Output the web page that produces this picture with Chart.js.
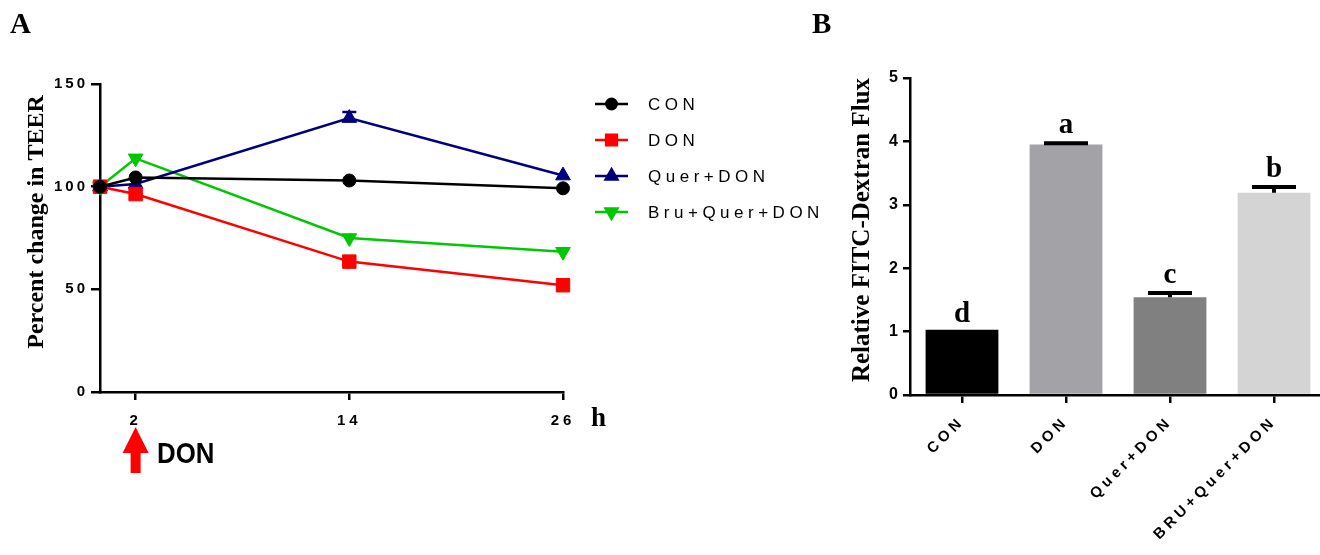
<!DOCTYPE html>
<html>
<head>
<meta charset="utf-8">
<script src="https://cdn.jsdelivr.net/npm/chart.js@4.4.0/dist/chart.umd.min.js"></script>
<style>
    html, body { margin: 0; padding: 0; background: #fff; overflow: hidden; width: 1320px; height: 555px; }
    #teerChart { position: absolute; left: 0; top: 0; }
    #fluxChart { position: absolute; left: 800px; top: 0; }
</style>
</head>
<body>
<canvas id="teerChart" width="830" height="555"></canvas>
<canvas id="fluxChart" width="550" height="555"></canvas>
<script>
// Panel A - TEER over time
const hours = [0, 2, 14, 26];
const hourTicks = [2, 14, 26];
const teerTicks = [0, 50, 100, 150];
const conTeer = [100, 104.5, 103, 99.2];
const donTeer = [100, 96.4, 63.5, 52];
const querDonTeer = [100, 101.3, 133.4, 105.4];
const querDonErr = [0, 0, 3, 0];
const bruQuerDonTeer = [100, 113.8, 75, 68.3];

// Panel B - FITC-dextran flux
const fluxGroups = ['CON', 'DON', 'Quer+DON', 'BRU+Quer+DON'];
const fluxValues = [1.03, 3.95, 1.54, 3.19];
const fluxErr = [0, 0.02, 0.07, 0.09];
const fluxLetters = ['d', 'a', 'c', 'b'];
const fluxTicks = [0, 1, 2, 3, 4, 5];

const SANS = '"Liberation Sans", Arial, sans-serif';
const SERIF = '"Liberation Serif", "Times New Roman", serif';

// canvas letterSpacing for tick labels, per axis
function spacedTicks(spacing) {
    return {
        id: 'spacedTicks',
        beforeDraw(chart) {
            Object.values(chart.scales).forEach(scale => {
                if (scale.drawLabels.spaced) return;
                const orig = scale.drawLabels;
                const wrapped = function(area) {
                    this.ctx.save();
                    this.ctx.letterSpacing = spacing[this.id] || '0px';
                    orig.call(this, area);
                    this.ctx.restore();
                };
                wrapped.spaced = true;
                scale.drawLabels = wrapped;
            });
        }
    };
}

function vTitle(ctx, text, x, y, font) {
    ctx.save();
    ctx.translate(x, y);
    ctx.rotate(-Math.PI / 2);
    ctx.font = font;
    ctx.fillStyle = '#000';
    ctx.textAlign = 'center';
    ctx.textBaseline = 'middle';
    ctx.fillText(text, 0, 0);
    ctx.restore();
}

function toPoints(values) {
    return hours.map((h, i) => ({ x: h, y: values[i] }));
}

// Panel A extras: error bars, legend, titles, arrow
const teerExtras = {
    id: 'teerExtras',
    afterDatasetsDraw(chart) {
        const ctx = chart.ctx;
        const xs = chart.scales.x, ys = chart.scales.y;
        chart.data.datasets.forEach(ds => {
            if (!ds.errors) return;
            ds.errors.forEach((e, i) => {
                if (!e) return;
                const px = xs.getPixelForValue(ds.data[i].x);
                const y0 = ys.getPixelForValue(ds.data[i].y);
                const y1 = ys.getPixelForValue(ds.data[i].y + e);
                ctx.save();
                ctx.strokeStyle = ds.borderColor;
                ctx.lineWidth = 2.5;
                ctx.beginPath();
                ctx.moveTo(px, y0); ctx.lineTo(px, y1);
                ctx.moveTo(px - 7, y1); ctx.lineTo(px + 7, y1);
                ctx.stroke();
                ctx.restore();
            });
        });
    },
    afterDraw(chart) {
        const ctx = chart.ctx;
        const xs = chart.scales.x;

        // legend
        chart.data.datasets.forEach((ds, i) => {
            const y = 104 + i * 36;
            ctx.save();
            ctx.strokeStyle = ds.borderColor;
            ctx.fillStyle = ds.backgroundColor;
            ctx.lineWidth = 2.5;
            ctx.beginPath();
            ctx.moveTo(595, y); ctx.lineTo(628, y);
            ctx.stroke();
            Chart.helpers.drawPoint(ctx, {
                pointStyle: ds.pointStyle,
                radius: ds.pointRadius * 0.8,
                rotation: ds.pointRotation || 0,
                borderWidth: 1
            }, 611.5, y);
            ctx.fillStyle = '#000';
            ctx.font = '17px ' + SANS;
            ctx.letterSpacing = '4.5px';
            ctx.textBaseline = 'middle';
            ctx.fillText(ds.label, 648, y + 1);
            ctx.restore();
        });

        ctx.save();
        ctx.fillStyle = '#000';
        ctx.font = 'bold 29px ' + SERIF;
        ctx.textBaseline = 'alphabetic';
        ctx.fillText('A', 10, 33);
        ctx.font = 'bold 27px ' + SERIF;
        ctx.fillText('h', 591, 426);

        // DON arrow at 2 h
        const ax = xs.getPixelForValue(2);
        ctx.fillStyle = '#ff0000';
        ctx.beginPath();
        ctx.moveTo(ax, 427);
        ctx.lineTo(ax + 13, 453);
        ctx.lineTo(ax + 5, 453);
        ctx.lineTo(ax + 5, 473);
        ctx.lineTo(ax - 5, 473);
        ctx.lineTo(ax - 5, 453);
        ctx.lineTo(ax - 13, 453);
        ctx.closePath();
        ctx.fill();
        ctx.translate(157, 455);
        ctx.scale(0.86, 1);
        ctx.fillStyle = '#000';
        ctx.font = 'bold 30px ' + SANS;
        ctx.textBaseline = 'middle';
        ctx.fillText('DON', 0, 0);
        ctx.restore();

        vTitle(ctx, 'Percent change in TEER', 37, 222, 'bold 24px ' + SERIF);
    }
};

new Chart(document.getElementById('teerChart'), {
    type: 'line',
    data: {
        datasets: [
            { label: 'CON', data: toPoints(conTeer), borderColor: '#000000', backgroundColor: '#000000',
              pointStyle: 'circle', pointRadius: 6.5 },
            { label: 'DON', data: toPoints(donTeer), borderColor: '#ff0000', backgroundColor: '#ff0000',
              pointStyle: 'rect', pointRadius: 9.5 },
            { label: 'Quer+DON', data: toPoints(querDonTeer), borderColor: '#00007f', backgroundColor: '#00007f',
              pointStyle: 'triangle', pointRadius: 8.5, errors: querDonErr },
            { label: 'Bru+Quer+DON', data: toPoints(bruQuerDonTeer), borderColor: '#00c800', backgroundColor: '#00c800',
              pointStyle: 'triangle', pointRotation: 180, pointRadius: 8.5 }
        ].map(ds => Object.assign(ds, { borderWidth: 2.5, pointBorderWidth: 1, tension: 0, clip: false }))
    },
    options: {
        responsive: false,
        animation: false,
        layout: { padding: { left: 0, top: 84, right: 267, bottom: 123 } },
        plugins: { legend: { display: false }, tooltip: { enabled: false } },
        scales: {
            x: {
                type: 'linear',
                min: 0,
                max: 26,
                afterBuildTicks: scale => { scale.ticks = hourTicks.map(v => ({ value: v })); },
                afterFit: scale => { scale.height = 40; },
                ticks: { color: '#000', font: { family: SANS, size: 15, weight: 'bold' }, padding: 12 },
                grid: { drawOnChartArea: false, drawTicks: true, tickLength: 8, color: '#000', lineWidth: 2.5 },
                border: { display: true, color: '#000', width: 2.5 }
            },
            y: {
                min: 0,
                max: 150,
                afterBuildTicks: scale => { scale.ticks = teerTicks.map(v => ({ value: v })); },
                afterFit: scale => { scale.width = 100; },
                ticks: { color: '#000', font: { family: SANS, size: 15, weight: 'bold' }, padding: 3 },
                grid: { drawOnChartArea: false, drawTicks: true, tickLength: 9, color: '#000', lineWidth: 2.5 },
                border: { display: true, color: '#000', width: 2.5 }
            }
        }
    },
    plugins: [spacedTicks({ x: '4px', y: '3px' }), teerExtras]
});

// Panel B extras: error bars, letters, titles
const fluxExtras = {
    id: 'fluxExtras',
    afterDatasetsDraw(chart) {
        const ctx = chart.ctx;
        const ys = chart.scales.y;
        const meta = chart.getDatasetMeta(0);
        meta.data.forEach((bar, i) => {
            let top = ys.getPixelForValue(fluxValues[i]);
            if (fluxErr[i] > 0) {
                const y1 = ys.getPixelForValue(fluxValues[i] + fluxErr[i]);
                ctx.save();
                ctx.strokeStyle = '#000';
                ctx.lineWidth = 4;
                ctx.beginPath();
                ctx.moveTo(bar.x, top); ctx.lineTo(bar.x, y1);
                ctx.moveTo(bar.x - 22, y1); ctx.lineTo(bar.x + 22, y1);
                ctx.stroke();
                ctx.restore();
                top = y1 - 2;
            }
            ctx.save();
            ctx.fillStyle = '#000';
            ctx.font = 'bold 29px ' + SERIF;
            ctx.textAlign = 'center';
            ctx.textBaseline = 'alphabetic';
            ctx.fillText(fluxLetters[i], bar.x, top - 8);
            ctx.restore();
        });
    },
    afterDraw(chart) {
        const ctx = chart.ctx;
        ctx.save();
        ctx.fillStyle = '#000';
        ctx.font = 'bold 29px ' + SERIF;
        ctx.fillText('B', 12, 33);
        ctx.restore();
        vTitle(ctx, 'Relative FITC-Dextran Flux', 63, 230, 'bold 25px ' + SERIF);
    }
};

new Chart(document.getElementById('fluxChart'), {
    type: 'bar',
    data: {
        labels: fluxGroups,
        datasets: [{
            data: fluxValues,
            backgroundColor: ['#000000', '#a3a2a7', '#808080', '#d4d4d4'],
            borderWidth: 0,
            barPercentage: 0.7,
            categoryPercentage: 1.0
        }]
    },
    options: {
        responsive: false,
        animation: false,
        layout: { padding: { left: 0, top: 78, right: 24, bottom: 0 } },
        plugins: { legend: { display: false }, tooltip: { enabled: false } },
        scales: {
            x: {
                afterFit: scale => { scale.height = 160; },
                ticks: { color: '#000', font: { family: SANS, size: 15, weight: 'bold' },
                         minRotation: 45, maxRotation: 45, padding: 10 },
                grid: { offset: false, drawOnChartArea: false, drawTicks: true, tickLength: 8, color: '#000', lineWidth: 2.5 },
                border: { display: true, color: '#000', width: 2.5 }
            },
            y: {
                min: 0,
                max: 5,
                afterBuildTicks: scale => { scale.ticks = fluxTicks.map(v => ({ value: v })); },
                afterFit: scale => { scale.width = 110; },
                ticks: { color: '#000', font: { family: SANS, size: 16, weight: 'bold' }, padding: 5 },
                grid: { drawOnChartArea: false, drawTicks: true, tickLength: 7, color: '#000', lineWidth: 2.5 },
                border: { display: true, color: '#000', width: 2.5 }
            }
        }
    },
    plugins: [spacedTicks({ x: '4px', y: '0px' }), fluxExtras]
});
</script>
</body>
</html>
